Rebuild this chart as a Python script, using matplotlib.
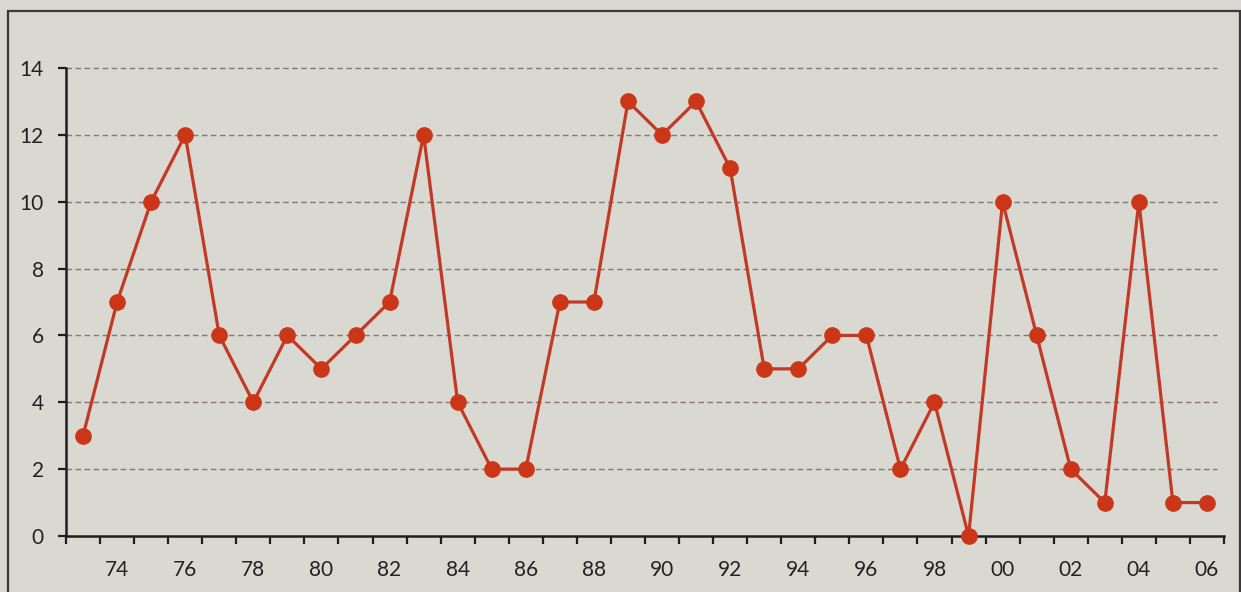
import matplotlib
matplotlib.use("Agg")
import matplotlib.pyplot as plt
from matplotlib.patches import Rectangle

years = list(range(1973, 2007))
values = [3, 7, 10, 12, 6, 4, 6, 5, 6, 7, 12, 4, 2, 2, 7, 7, 13, 12, 13, 11,
          5, 5, 6, 6, 2, 4, 0, 10, 6, 2, 1, 10, 1, 1]
y_ticks = [0, 2, 4, 6, 8, 10, 12, 14]

bg = "#d9d9d1"
line_color = "#c23a26"
marker_color = "#cc3618"
grid_color = "#85777a"

plt.rcParams["font.family"] = ["Lato", "DejaVu Sans"]

fig = plt.figure(figsize=(12.41, 5.92), dpi=100, facecolor=bg)
ax = fig.add_axes([66 / 1241, 56 / 592, (1224 - 66) / 1241, (536 - 68) / 592])
ax.set_facecolor(bg)

x = list(range(len(years)))
ax.plot(x, values, color=line_color, lw=2.3, marker="o", ms=11,
        mfc=marker_color, mec=marker_color, zorder=3, clip_on=False)

ax.set_xlim(-0.5, len(years) - 0.5)
ax.set_ylim(0, 14)

# horizontal dashed guides
for yv in y_ticks[1:]:
    ax.plot([-0.5, len(years) - 0.7], [yv, yv], color=grid_color, lw=1.0,
            dashes=(4, 2.5), zorder=1, clip_on=False)

for s in ["top", "right"]:
    ax.spines[s].set_visible(False)
for s in ["left", "bottom"]:
    ax.spines[s].set_color("#1e1e1e")
    ax.spines[s].set_linewidth(1.8)

ax.set_yticks(y_ticks)
ax.set_yticklabels([str(v) for v in y_ticks])
ax.tick_params(axis="y", direction="out", length=6, width=1.6, color="#1e1e1e",
               labelsize=15, pad=10, labelcolor="#222222")

# category boundaries as tick marks, labels on every other year
ax.set_xticks([i - 0.5 for i in range(len(years) + 1)])
ax.set_xticklabels([])
ax.set_xticks(x, minor=True)
ax.set_xticklabels([f"{y % 100:02d}" if (y % 2 == 0) else "" for y in years],
                   minor=True)
ax.tick_params(axis="x", which="major", direction="out", length=6, width=1.6,
               color="#1e1e1e")
ax.tick_params(axis="x", which="minor", length=0, labelsize=15, pad=17,
               labelcolor="#222222")

# outer frame
fig.patches.append(Rectangle((8 / 1241, -0.05), (1240 - 8) / 1241, 1.05 - 11 / 592,
                             transform=fig.transFigure, fill=False,
                             edgecolor="#3a3a3a", lw=1.6))

fig.savefig("out.png", dpi=100, facecolor=bg)
